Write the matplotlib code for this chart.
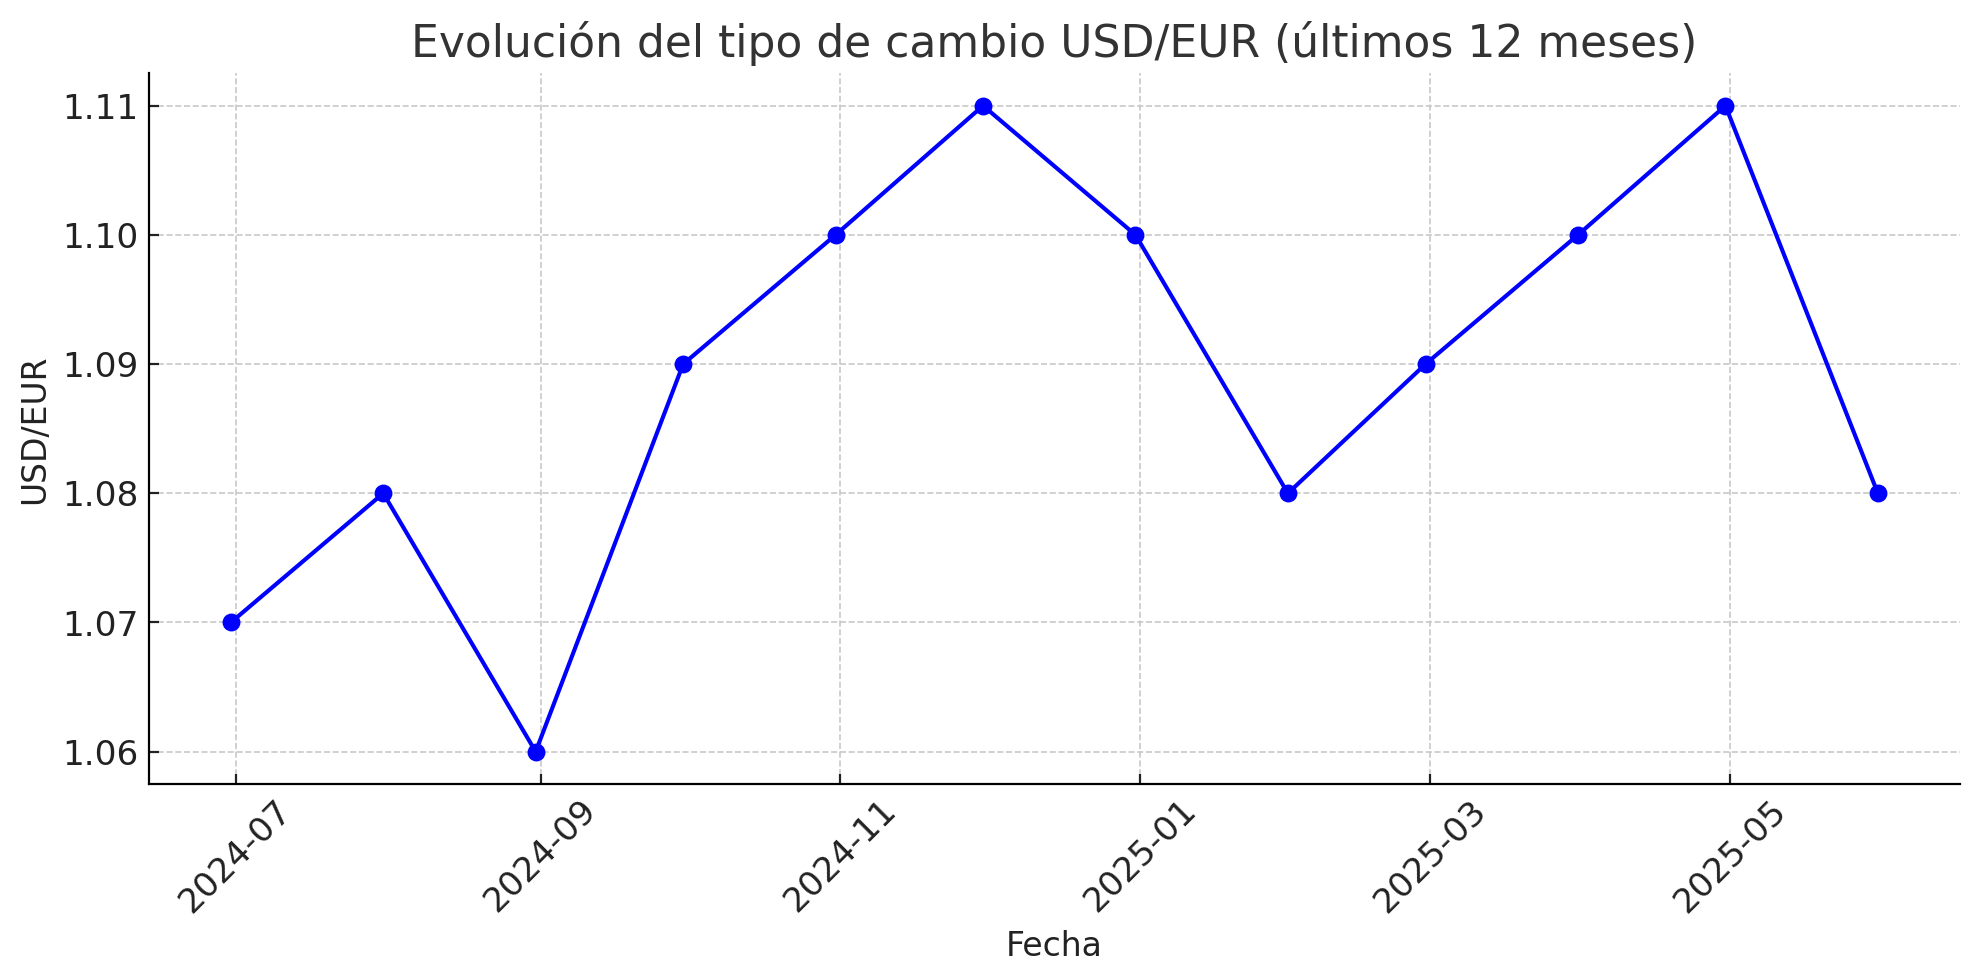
import matplotlib
matplotlib.use("Agg")
import matplotlib.pyplot as plt
import matplotlib.dates as mdates
import pandas as pd

dates = ["2024-06-30", "2024-07-31", "2024-08-31", "2024-09-30", "2024-10-31", "2024-11-30",
         "2024-12-31", "2025-01-31", "2025-02-28", "2025-03-31", "2025-04-30", "2025-05-31"]
values = [1.07, 1.08, 1.06, 1.09, 1.10, 1.11, 1.10, 1.08, 1.09, 1.10, 1.11, 1.08]

x = pd.to_datetime(dates)

fig, ax = plt.subplots(figsize=(10, 4.95), dpi=198)
ax.plot(x, values, color="blue", marker="o", markersize=5.5, linewidth=1.5)
ax.set_title("Evolución del tipo de cambio USD/EUR (últimos 12 meses)", fontsize=16, color="#333333")
ax.set_xlabel("Fecha", fontsize=12, color="#222222")
ax.set_ylabel("USD/EUR", fontsize=12, color="#222222")
ax.xaxis.set_major_locator(mdates.MonthLocator(bymonth=[1, 3, 5, 7, 9, 11]))
ax.xaxis.set_major_formatter(mdates.DateFormatter("%Y-%m"))
ax.set_yticks([1.06, 1.07, 1.08, 1.09, 1.10, 1.11])
ax.yaxis.set_major_formatter(matplotlib.ticker.FormatStrFormatter("%.2f"))
plt.setp(ax.get_xticklabels(), rotation=45, ha="center")
ax.tick_params(labelsize=12.5, colors="#222222", direction="in")
ax.grid(True, linestyle="--", linewidth=0.6, color="#c8c8c8")
ax.spines["top"].set_visible(False)
ax.spines["right"].set_visible(False)
fig.subplots_adjust(left=0.075, right=0.99, top=0.925, bottom=0.2)
fig.savefig("out.png")
